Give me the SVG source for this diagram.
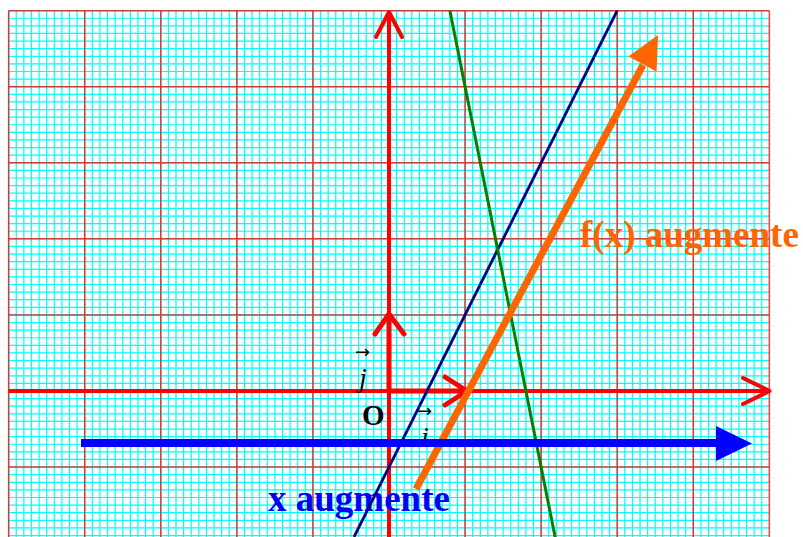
<svg xmlns="http://www.w3.org/2000/svg" width="803" height="537" viewBox="0 0 803 537">
<style>
.minor{fill:none;stroke:#00ffff;stroke-width:0.16}
.major{fill:none;stroke:#ff0000;stroke-opacity:0.75;stroke-width:0.2}
.axis{fill:none;stroke:#ff0000;stroke-width:4;stroke-linejoin:round}
.head{fill:none;stroke:#ff0000;stroke-width:4;stroke-linecap:round;stroke-linejoin:round}
.vec{fill:none;stroke:#ff0000;stroke-width:5;stroke-linecap:round;stroke-linejoin:round}
.lbl{font-family:"Liberation Serif","Times New Roman",serif;fill:#000}
.acc{font-family:"DejaVu Sans",sans-serif;font-size:18px;fill:#000}
.big{font-family:"Liberation Serif","Times New Roman",serif;font-weight:bold;font-size:37px}
</style>
<rect width="803" height="537" fill="#ffffff"/>
<g id="grid" transform="translate(8.65 10.65) scale(7.607)">
<path class="minor" d="M0 0v69.2m1-69.2v69.2m1-69.2v69.2m1-69.2v69.2m1-69.2v69.2m1-69.2v69.2m1-69.2v69.2m1-69.2v69.2m1-69.2v69.2m1-69.2v69.2m1-69.2v69.2m1-69.2v69.2m1-69.2v69.2m1-69.2v69.2m1-69.2v69.2m1-69.2v69.2m1-69.2v69.2m1-69.2v69.2m1-69.2v69.2m1-69.2v69.2m1-69.2v69.2m1-69.2v69.2m1-69.2v69.2m1-69.2v69.2m1-69.2v69.2m1-69.2v69.2m1-69.2v69.2m1-69.2v69.2m1-69.2v69.2m1-69.2v69.2m1-69.2v69.2m1-69.2v69.2m1-69.2v69.2m1-69.2v69.2m1-69.2v69.2m1-69.2v69.2m1-69.2v69.2m1-69.2v69.2m1-69.2v69.2m1-69.2v69.2m1-69.2v69.2m1-69.2v69.2m1-69.2v69.2m1-69.2v69.2m1-69.2v69.2m1-69.2v69.2m1-69.2v69.2m1-69.2v69.2m1-69.2v69.2m1-69.2v69.2m1-69.2v69.2m1-69.2v69.2m1-69.2v69.2m1-69.2v69.2m1-69.2v69.2m1-69.2v69.2m1-69.2v69.2m1-69.2v69.2m1-69.2v69.2m1-69.2v69.2m1-69.2v69.2m1-69.2v69.2m1-69.2v69.2m1-69.2v69.2m1-69.2v69.2m1-69.2v69.2m1-69.2v69.2m1-69.2v69.2m1-69.2v69.2m1-69.2v69.2m1-69.2v69.2m1-69.2v69.2m1-69.2v69.2m1-69.2v69.2m1-69.2v69.2m1-69.2v69.2m1-69.2v69.2m1-69.2v69.2m1-69.2v69.2m1-69.2v69.2m1-69.2v69.2m1-69.2v69.2m1-69.2v69.2m1-69.2v69.2m1-69.2v69.2m1-69.2v69.2m1-69.2v69.2m1-69.2v69.2m1-69.2v69.2m1-69.2v69.2m1-69.2v69.2m1-69.2v69.2m1-69.2v69.2m1-69.2v69.2m1-69.2v69.2m1-69.2v69.2m1-69.2v69.2m1-69.2v69.2m1-69.2v69.2m1-69.2v69.2"/>
<path class="minor" d="M0 0h100m-100 1h100m-100 1h100m-100 1h100m-100 1h100m-100 1h100m-100 1h100m-100 1h100m-100 1h100m-100 1h100m-100 1h100m-100 1h100m-100 1h100m-100 1h100m-100 1h100m-100 1h100m-100 1h100m-100 1h100m-100 1h100m-100 1h100m-100 1h100m-100 1h100m-100 1h100m-100 1h100m-100 1h100m-100 1h100m-100 1h100m-100 1h100m-100 1h100m-100 1h100m-100 1h100m-100 1h100m-100 1h100m-100 1h100m-100 1h100m-100 1h100m-100 1h100m-100 1h100m-100 1h100m-100 1h100m-100 1h100m-100 1h100m-100 1h100m-100 1h100m-100 1h100m-100 1h100m-100 1h100m-100 1h100m-100 1h100m-100 1h100m-100 1h100m-100 1h100m-100 1h100m-100 1h100m-100 1h100m-100 1h100m-100 1h100m-100 1h100m-100 1h100m-100 1h100m-100 1h100m-100 1h100m-100 1h100m-100 1h100m-100 1h100m-100 1h100m-100 1h100m-100 1h100m-100 1h100m-100 1h100m-100 1h100"/>
<path class="major" d="M0 0v69.2m10-69.2v69.2m10-69.2v69.2m10-69.2v69.2m10-69.2v69.2m10-69.2v69.2m10-69.2v69.2m10-69.2v69.2m10-69.2v69.2m10-69.2v69.2m10-69.2v69.2M0 0h100m-100 10h100m-100 10h100m-100 10h100m-100 10h100m-100 10h100m-100 10h100"/>
</g>
<g id="axes">
<path class="axis" d="M8.65 391H768.5M389 537V12"/>
<polyline class="head" points="743,378 769.5,391 743,404"/>
<polyline class="head" points="376,37 389,12 402,37"/>
</g>
<g id="vector-i">
<path class="vec" d="M389 391H466"/>
<polyline class="vec" points="445,377 467,391 445,405"/>
</g>
<g id="vector-j">
<path class="vec" d="M389 391V315"/>
<polyline class="vec" points="375,334 389,314 404,334"/>
</g>
<g id="labels">
<text class="lbl" x="362" y="425" font-weight="bold" font-size="29">O</text>
<text class="lbl" x="359" y="387" font-style="italic" font-size="28">j</text>
<text class="acc" x="355" y="358">→</text>
<text class="lbl" x="421" y="446" font-style="italic" font-size="28">i</text>
<text class="acc" x="417" y="417">→</text>
<text class="big" x="268" y="511" fill="#0000ff">x augmente</text>
<text class="big" x="580" y="247" fill="#ff6600">f(x) augmente</text>
</g>
<g id="connectors">
<line id="line-blue" x1="354" y1="537" x2="617.2" y2="10.65" stroke="#000080" stroke-width="2.8"/>
<line id="line-green" x1="449.9" y1="10.65" x2="555.1" y2="537" stroke="#008000" stroke-width="3"/>
<g id="arrow-fx">
<line x1="416" y1="489" x2="643" y2="65" stroke="#ff6600" stroke-width="7"/>
<polygon points="658,35 656.6,71.6 628.4,56.6" fill="#ff6600"/>
</g>
<g id="arrow-x">
<line x1="81" y1="443" x2="718" y2="443" stroke="#0000ff" stroke-width="8"/>
<polygon points="716,426 752,443.5 716,461" fill="#0000ff"/>
</g>
</g>
</svg>
